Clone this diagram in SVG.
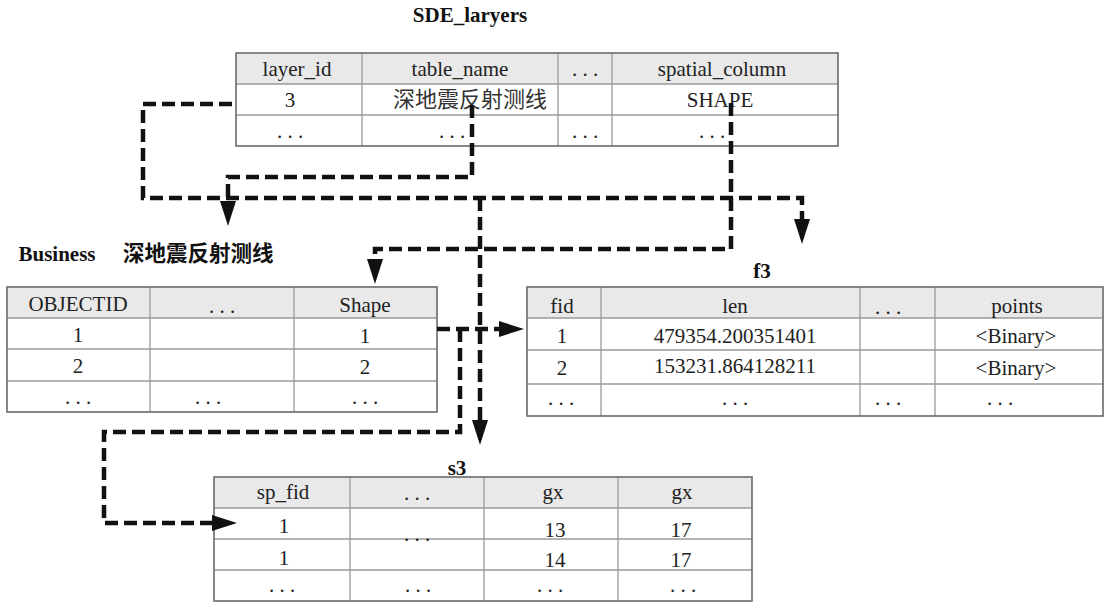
<svg xmlns="http://www.w3.org/2000/svg" width="1106" height="602" viewBox="0 0 1106 602">
  <style>
    .cell { font-family: "Liberation Serif", "Times New Roman", serif; font-size: 21px; fill: #222; text-anchor: middle; }
    .cjk { font-family: "Noto Sans CJK SC", sans-serif; font-size: 22px; fill: #333; text-anchor: middle; }
    .title { font-family: "Liberation Serif", "Times New Roman", serif; font-size: 21px; font-weight: bold; fill: #111; text-anchor: middle; }
    .title-cjk { font-family: "Noto Sans CJK SC", sans-serif; font-size: 21.5px; font-weight: bold; fill: #111; }
    .head { fill: #e9e9e9; }
    .frame { fill: none; stroke: #6a6a6a; stroke-width: 1.6; }
    .grid { stroke: #9a9a9a; stroke-width: 1.3; fill: none; }
    .link { fill: none; stroke: #111; stroke-width: 4.5; stroke-dasharray: 13 6; stroke-linejoin: miter; }
  </style>
  <defs>
    <marker id="arrow" markerUnits="userSpaceOnUse" markerWidth="26" markerHeight="18" refX="0" refY="8" orient="auto">
      <path d="M0,0 L25,8 L0,16 Z" fill="#111"/>
    </marker>
  </defs>

  <!-- SDE_layers registry table -->
  <g id="sde-layers">
    <text class="title" x="470" y="22">SDE_laryers</text>
    <rect class="head" x="236" y="53" width="602" height="31"/>
    <path class="grid" d="M236,84 H838 M236,115 H838 M362,53 V146 M558,53 V146 M612,53 V146"/>
    <rect class="frame" x="236" y="53" width="602" height="93"/>
    <text class="cell" x="297" y="76">layer_id</text>
    <text class="cell" x="460" y="76">table_name</text>
    <text class="cell" x="585" y="76">. . .</text>
    <text class="cell" x="722" y="76">spatial_column</text>
    <text class="cell" x="290" y="107">3</text>
    <text class="cjk" x="470" y="107">深地震反射测线</text>
    <text class="cell" x="720" y="107">SHAPE</text>
    <text class="cell" x="290" y="138">. . .</text>
    <text class="cell" x="452" y="138">. . .</text>
    <text class="cell" x="585" y="138">. . .</text>
    <text class="cell" x="712" y="138">. . .</text>
  </g>

  <!-- Business feature class table -->
  <g id="business">
    <text class="title" x="57" y="261">Business</text>
    <text class="title-cjk" x="123" y="261">深地震反射测线</text>
    <rect class="head" x="7" y="287" width="430" height="31"/>
    <path class="grid" d="M7,318 H437 M7,349 H437 M7,381 H437 M150,287 V412 M294,287 V412"/>
    <rect class="frame" x="7" y="287" width="430" height="125"/>
    <text class="cell" x="78" y="311">OBJECTID</text>
    <text class="cell" x="222" y="313">. . .</text>
    <text class="cell" x="365" y="312">Shape</text>
    <text class="cell" x="78" y="342">1</text>
    <text class="cell" x="365" y="343">1</text>
    <text class="cell" x="78" y="373">2</text>
    <text class="cell" x="365" y="374">2</text>
    <text class="cell" x="78" y="404">. . .</text>
    <text class="cell" x="208" y="404">. . .</text>
    <text class="cell" x="365" y="404">. . .</text>
  </g>

  <!-- f3 feature table -->
  <g id="f3">
    <text class="title" x="762" y="278">f3</text>
    <rect class="head" x="527" y="287" width="576" height="31"/>
    <path class="grid" d="M527,318 H1103 M527,350 H1103 M527,384 H1103 M601,287 V416 M860,287 V416 M935,287 V416"/>
    <rect class="frame" x="527" y="287" width="576" height="129"/>
    <text class="cell" x="562" y="313">fid</text>
    <text class="cell" x="735" y="313">len</text>
    <text class="cell" x="888" y="314">. . .</text>
    <text class="cell" x="1017" y="313">points</text>
    <text class="cell" x="562" y="343">1</text>
    <text class="cell" x="735" y="343">479354.200351401</text>
    <text class="cell" x="1016" y="343">&lt;Binary&gt;</text>
    <text class="cell" x="562" y="375">2</text>
    <text class="cell" x="735" y="373">153231.864128211</text>
    <text class="cell" x="1016" y="375">&lt;Binary&gt;</text>
    <text class="cell" x="561" y="405">. . .</text>
    <text class="cell" x="735" y="405">. . .</text>
    <text class="cell" x="888" y="405">. . .</text>
    <text class="cell" x="1000" y="405">. . .</text>
  </g>

  <!-- s3 spatial index table -->
  <g id="s3">
    <text class="title" x="457" y="475">s3</text>
    <rect class="head" x="214" y="477" width="538" height="31"/>
    <path class="grid" d="M214,508 H752 M214,539 H752 M214,570 H752 M350,477 V601 M484,477 V601 M618,477 V601"/>
    <rect class="frame" x="214" y="477" width="538" height="124"/>
    <text class="cell" x="283" y="499">sp_fid</text>
    <text class="cell" x="417" y="500">. . .</text>
    <text class="cell" x="553" y="499">gx</text>
    <text class="cell" x="682" y="499">gx</text>
    <text class="cell" x="284" y="533">1</text>
    <text class="cell" x="417" y="541">. . .</text>
    <text class="cell" x="555" y="537">13</text>
    <text class="cell" x="681" y="537">17</text>
    <text class="cell" x="284" y="565">1</text>
    <text class="cell" x="555" y="567">14</text>
    <text class="cell" x="681" y="567">17</text>
    <text class="cell" x="282" y="592">. . .</text>
    <text class="cell" x="418" y="592">. . .</text>
    <text class="cell" x="550" y="592">. . .</text>
    <text class="cell" x="683" y="592">. . .</text>
  </g>

  <!-- dashed reference links -->
  <g id="connectors">
    <path class="link" d="M232,104 H143 V198 H802 V219" marker-end="url(#arrow)"/>
    <path class="link" d="M472,105 V177 H228 V201" marker-end="url(#arrow)"/>
    <path class="link" d="M731,103 V249 H375 V259" marker-end="url(#arrow)"/>
    <path class="link" d="M480,198 V420" marker-end="url(#arrow)"/>
    <path class="link" d="M437,329 H499" marker-end="url(#arrow)"/>
    <path class="link" d="M460,329 V432 H104 V523 H212" marker-end="url(#arrow)"/>
  </g>
</svg>
